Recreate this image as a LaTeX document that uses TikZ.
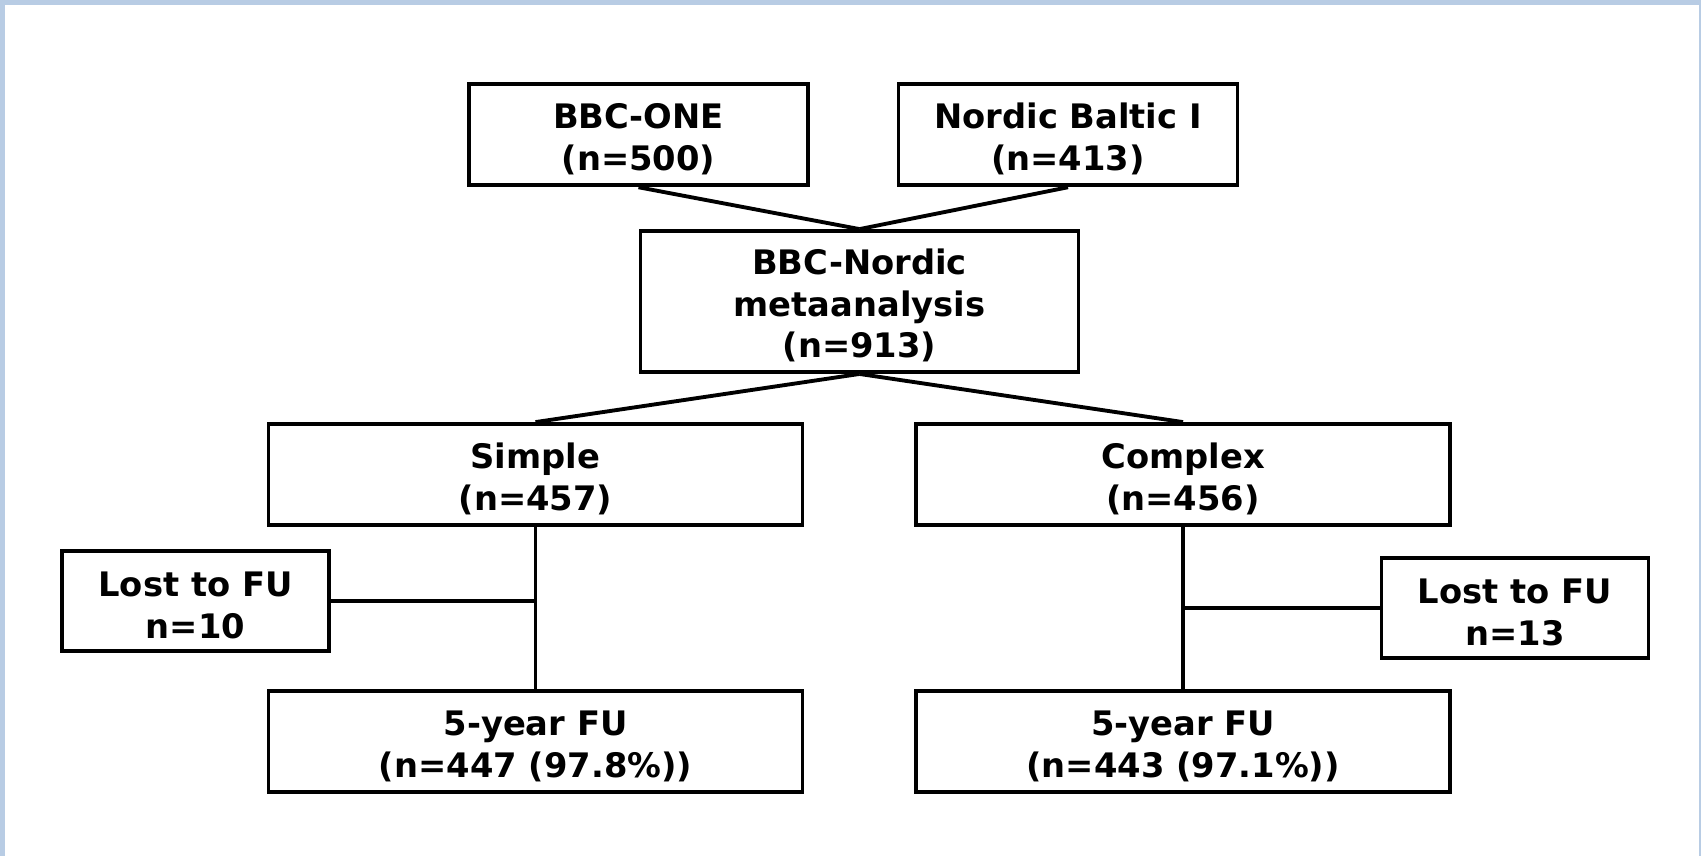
\documentclass[tikz,border=0pt]{standalone}
\usepackage{fontspec}
\setmainfont{DejaVu Sans}
\usepackage{tikz}
\usetikzlibrary{positioning,calc,backgrounds}
\definecolor{frameblue}{HTML}{B8CCE4}
\newcommand{\topstrut}{\rule{0pt}{9.6pt}}
\tikzset{
  %% Flow boxes
  flowbox/.style={draw=black, line width=1.1pt, fill=white, inner sep=0pt,
    minimum height=1.01cm,
    font=\fontsize{9.6}{11.9}\selectfont\bfseries, align=center},
  wideBox/.style={flowbox, minimum width=5.34cm},
  topBox/.style={flowbox, minimum width=3.39cm},
  lostBox/.style={flowbox, minimum width=2.67cm, minimum height=1.0cm},
  %% Connector lines
  link/.style={draw=black, line width=1.1pt},
}
\begin{document}
\begin{tikzpicture}[x=1cm, y=1cm]
\useasboundingbox (0,0) rectangle (17.01,-8.56);
\fill[frameblue] (0,0) rectangle (17.01,-8.56);
\fill[white] (0.055,-0.05) rectangle (16.99,-8.56);

\node[topBox]  (pBBC)     at ( 6.385,-1.348) {\topstrut BBC-ONE\\(n=500)};
\node[topBox]  (pNordic)  at (10.680,-1.348) {\topstrut Nordic Baltic I\\(n=413)};
\node[flowbox, minimum width=4.38cm, minimum height=1.41cm]
               (pMeta)    at ( 8.595,-3.015) {\topstrut BBC-Nordic\\metaanalysis\\(n=913)};
\node[wideBox] (pSimple)  at ( 5.355,-4.745) {\topstrut Simple\\(n=457)};
\node[wideBox] (pComplex) at (11.830,-4.745) {\topstrut Complex\\(n=456)};
\node[lostBox] (pLostS)   at ( 1.955,-6.010) {\topstrut Lost to FU\\n=10};
\node[lostBox] (pLostC)   at (15.150,-6.080) {\topstrut Lost to FU\\n=13};
\node[wideBox] (pFiveS)   at ( 5.355,-7.415) {\topstrut 5-year FU\\(n=447 (97.8\%))};
\node[wideBox] (pFiveC)   at (11.830,-7.415) {\topstrut 5-year FU\\(n=443 (97.1\%))};

\draw[link] (pBBC.south) -- (pMeta.north);
\draw[link] (pNordic.south) -- (pMeta.north);
\draw[link] (pMeta.south) -- (pSimple.north);
\draw[link] (pMeta.south) -- (pComplex.north);
\draw[link] (pSimple.south) -- (pFiveS.north);
\draw[link] (pComplex.south) -- (pFiveC.north);
\draw[link] (pLostS.east) -- (pLostS.east -| pSimple.south);
\draw[link] (pLostC.west) -- (pLostC.west -| pComplex.south);

\end{tikzpicture}
\end{document}
